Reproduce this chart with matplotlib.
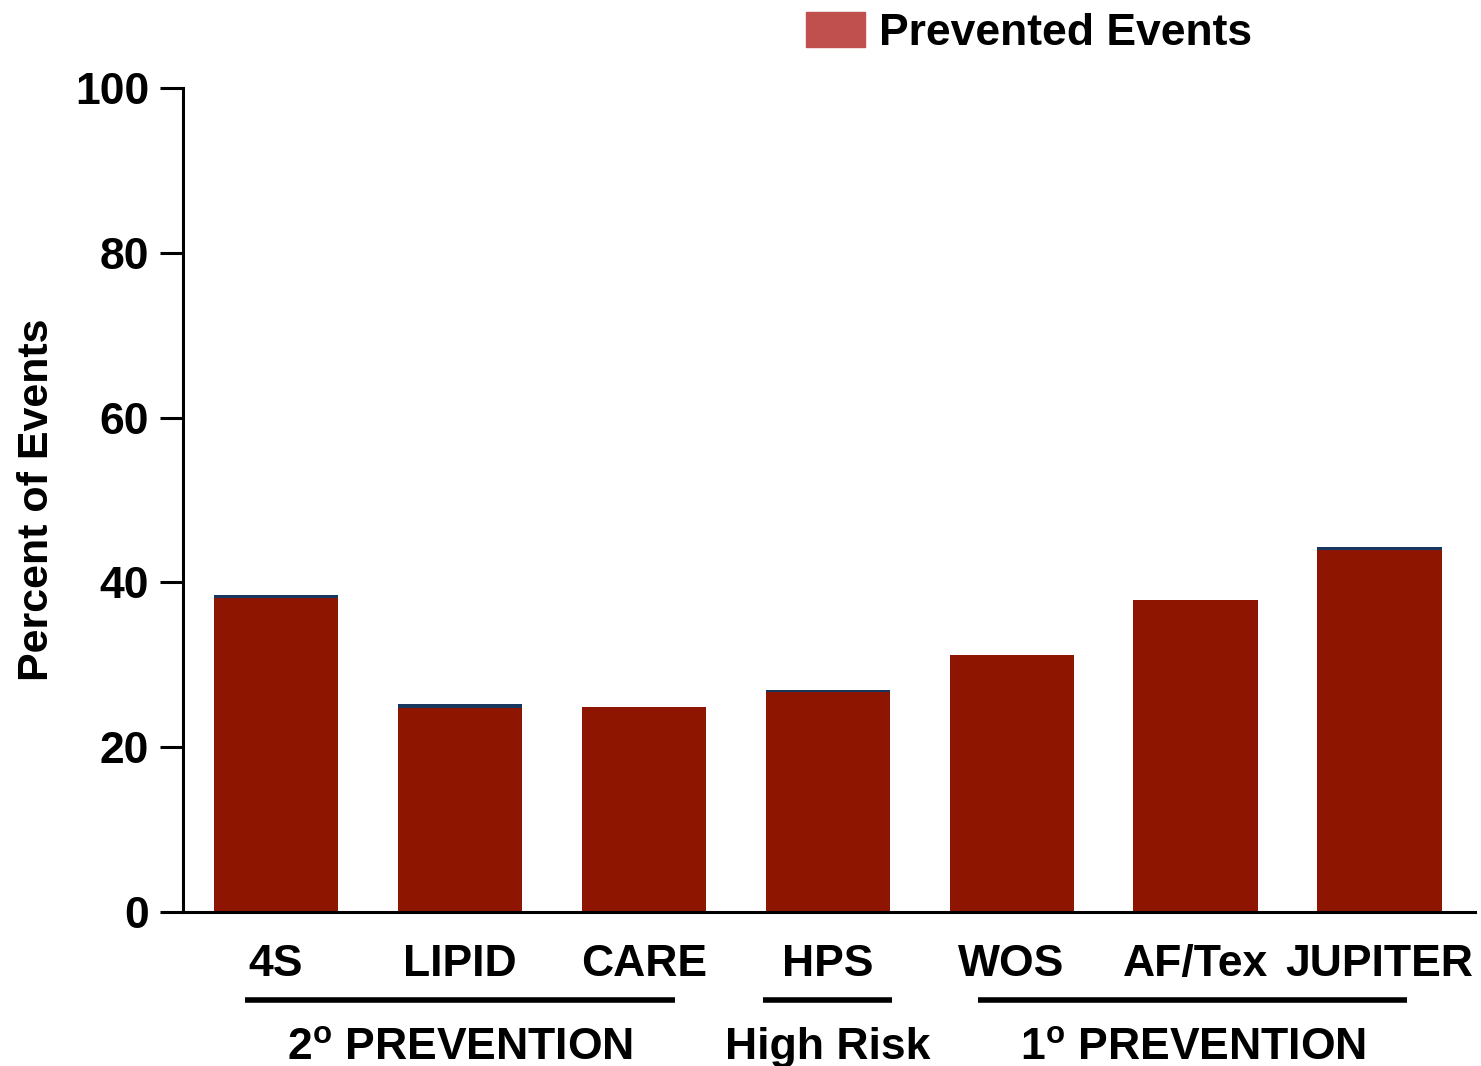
import matplotlib
matplotlib.use("Agg")
import matplotlib.pyplot as plt
from matplotlib.patches import Patch
import matplotlib.transforms as mtransforms

plt.rcParams['font.family'] = ['Liberation Sans', 'DejaVu Sans']
plt.rcParams['font.weight'] = 'bold'
plt.rcParams['mathtext.fontset'] = 'custom'
plt.rcParams['mathtext.rm'] = 'Liberation Sans:bold'

# data
trials = ['4S', 'LIPID', 'CARE', 'HPS', 'WOS', 'AF/Tex', 'JUPITER']
prevented = [38.1, 24.8, 24.9, 26.7, 31.2, 37.9, 43.9]
top_sliver = [0.4, 0.4, 0.0, 0.2, 0.0, 0.0, 0.4]
groups = ['2$^{\\mathrm{o}}$ PREVENTION', 'High Risk', '1$^{\\mathrm{o}}$ PREVENTION']
group_spans = [(-0.17, 2.17), (2.65, 3.35), (3.82, 6.15)]

bar_color = '#8E1500'
sliver_color = '#17375E'
legend_color = '#C0504D'

fig = plt.figure(figsize=(14.81, 10.66), dpi=100)
ax = fig.add_axes([0.1236, 0.1445, 0.8724, 0.7729])

x = list(range(len(trials)))
ax.bar(x, prevented, width=0.675, color=bar_color)
ax.bar(x, top_sliver, bottom=prevented, width=0.675, color=sliver_color)

ax.set_xlim(-0.505, 6.52)
ax.set_ylim(0, 100)
ax.set_yticks([0, 20, 40, 60, 80, 100])
ax.set_xticks(x)
ax.set_xticklabels(trials)
ax.tick_params(axis='y', length=16.5, width=2.2, pad=8, labelsize=32)
ax.tick_params(axis='x', length=0, pad=23, labelsize=32)
for s in ['top', 'right']:
    ax.spines[s].set_visible(False)
for s in ['left', 'bottom']:
    ax.spines[s].set_linewidth(2.2)
ax.set_ylabel('Percent of Events', fontsize=31, fontweight='bold', labelpad=13)

# group brackets under the categories
trans = mtransforms.blended_transform_factory(ax.transData, fig.transFigure)
for name, (a, b) in zip(groups, group_spans):
    ax.plot([a, b], [0.062, 0.062], transform=trans, color='black', lw=4,
            clip_on=False, solid_capstyle='butt')
    ax.text((a + b) / 2, 0.017, name, transform=trans, ha='center', va='center',
            fontsize=32, fontweight='bold')

ax.legend(handles=[Patch(color=legend_color, label='Prevented Events')],
          loc='upper left', bbox_to_anchor=(806 / 1481, 1 - 12 / 1066),
          bbox_transform=fig.transFigure, frameon=False, fontsize=32,
          handlelength=1.32, handleheight=0.85, handletextpad=0.32, borderpad=0,
          borderaxespad=0)

fig.savefig('out.png', dpi=100)
